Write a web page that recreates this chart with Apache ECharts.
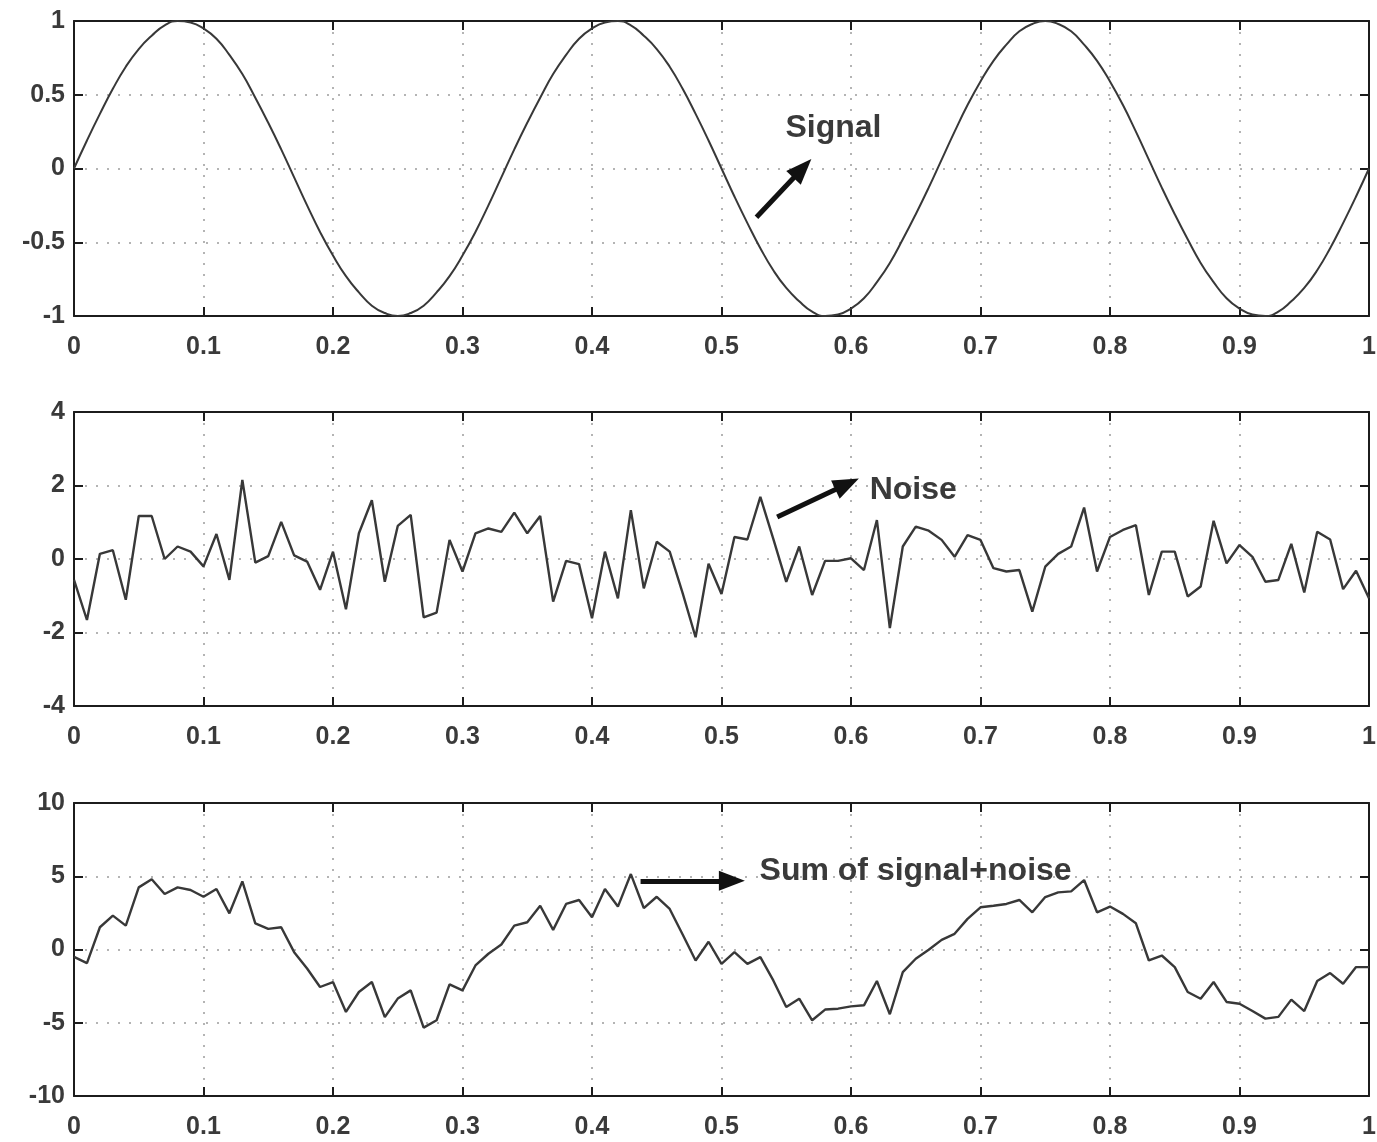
<!DOCTYPE html>
<html>
<head>
<meta charset="utf-8">
<title>Signal, noise and sum</title>
<script src="https://cdn.jsdelivr.net/npm/echarts@6.0.0/dist/echarts.min.js"></script>
<style>
  html, body { margin: 0; padding: 0; background: #fff; }
  #chart { width: 1377px; height: 1142px; }
</style>
</head>
<body>
<div id="chart"></div>
<script>
// sample times (step 0.01)
const tValues = [
  0, 0.01, 0.02, 0.03, 0.04, 0.05, 0.06, 0.07, 0.08, 0.09,
  0.1, 0.11, 0.12, 0.13, 0.14, 0.15, 0.16, 0.17, 0.18, 0.19,
  0.2, 0.21, 0.22, 0.23, 0.24, 0.25, 0.26, 0.27, 0.28, 0.29,
  0.3, 0.31, 0.32, 0.33, 0.34, 0.35, 0.36, 0.37, 0.38, 0.39,
  0.4, 0.41, 0.42, 0.43, 0.44, 0.45, 0.46, 0.47, 0.48, 0.49,
  0.5, 0.51, 0.52, 0.53, 0.54, 0.55, 0.56, 0.57, 0.58, 0.59,
  0.6, 0.61, 0.62, 0.63, 0.64, 0.65, 0.66, 0.67, 0.68, 0.69,
  0.7, 0.71, 0.72, 0.73, 0.74, 0.75, 0.76, 0.77, 0.78, 0.79,
  0.8, 0.81, 0.82, 0.83, 0.84, 0.85, 0.86, 0.87, 0.88, 0.89,
  0.9, 0.91, 0.92, 0.93, 0.94, 0.95, 0.96, 0.97, 0.98, 0.99,
  1
]

const signal = [
  0, 0.19, 0.37, 0.54, 0.69, 0.81, 0.9, 0.97, 1, 0.99,
  0.95, 0.88, 0.77, 0.64, 0.48, 0.31, 0.13, -0.06, -0.25, -0.43,
  -0.59, -0.73, -0.84, -0.93, -0.98, -1, -0.98, -0.93, -0.84, -0.73,
  -0.59, -0.43, -0.25, -0.06, 0.13, 0.31, 0.48, 0.64, 0.77, 0.88,
  0.95, 0.99, 1, 0.97, 0.9, 0.81, 0.69, 0.54, 0.37, 0.19,
  0, -0.19, -0.37, -0.54, -0.69, -0.81, -0.9, -0.97, -1, -0.99,
  -0.95, -0.88, -0.77, -0.64, -0.48, -0.31, -0.13, 0.06, 0.25, 0.43,
  0.59, 0.73, 0.84, 0.93, 0.98, 1, 0.98, 0.93, 0.84, 0.73,
  0.59, 0.43, 0.25, 0.06, -0.13, -0.31, -0.48, -0.64, -0.77, -0.88,
  -0.95, -0.99, -1, -0.97, -0.9, -0.81, -0.69, -0.54, -0.37, -0.19,
  0
]

const noise = [
  -0.57, -1.66, 0.14, 0.24, -1.11, 1.17, 1.17, 0, 0.34, 0.2,
  -0.2, 0.68, -0.57, 2.15, -0.1, 0.08, 1.01, 0.1, -0.07, -0.84,
  0.2, -1.37, 0.7, 1.6, -0.62, 0.9, 1.2, -1.59, -1.46, 0.52,
  -0.34, 0.7, 0.83, 0.74, 1.26, 0.7, 1.17, -1.16, -0.05, -0.14,
  -1.61, 0.2, -1.07, 1.33, -0.8, 0.47, 0.2, -0.93, -2.13, -0.13,
  -0.95, 0.6, 0.53, 1.69, 0.55, -0.62, 0.34, -0.98, -0.05, -0.05,
  0.02, -0.3, 1.06, -1.88, 0.34, 0.88, 0.77, 0.52, 0.06, 0.65,
  0.52, -0.25, -0.34, -0.3, -1.43, -0.21, 0.14, 0.34, 1.4, -0.34,
  0.6, 0.79, 0.92, -0.98, 0.2, 0.2, -1.02, -0.75, 1.04, -0.12,
  0.38, 0.06, -0.62, -0.57, 0.41, -0.91, 0.74, 0.53, -0.82, -0.32,
  -1.07
]

const sum = [
  -0.5, -0.93, 1.52, 2.31, 1.63, 4.24, 4.8, 3.79, 4.24, 4.06,
  3.6, 4.13, 2.47, 4.65, 1.79, 1.41, 1.52, -0.18, -1.3, -2.56,
  -2.22, -4.26, -2.9, -2.22, -4.62, -3.35, -2.79, -5.33, -4.83, -2.38,
  -2.79, -1.09, -0.29, 0.34, 1.63, 1.86, 2.99, 1.34, 3.11, 3.38,
  2.2, 4.13, 2.93, 5.15, 2.83, 3.6, 2.77, 1.02, -0.75, 0.53,
  -0.98, -0.18, -0.98, -0.52, -2.11, -3.92, -3.36, -4.83, -4.1, -4.04,
  -3.88, -3.81, -2.15, -4.42, -1.54, -0.63, -0.02, 0.66, 1.07, 2.09,
  2.88, 2.99, 3.11, 3.38, 2.54, 3.58, 3.9, 3.97, 4.74, 2.54,
  2.93, 2.43, 1.79, -0.75, -0.41, -1.2, -2.9, -3.36, -2.22, -3.58,
  -3.7, -4.2, -4.72, -4.6, -3.42, -4.2, -2.15, -1.61, -2.34, -1.2,
  -1.2
]

const xTicks = [0, 0.1, 0.2, 0.3, 0.4, 0.5, 0.6, 0.7, 0.8, 0.9, 1]
const xTickLabels = ['0', '0.1', '0.2', '0.3', '0.4', '0.5', '0.6', '0.7', '0.8', '0.9', '1']
const signalTicks = [-1, -0.5, 0, 0.5, 1]
const signalTickLabels = ['-1', '-0.5', '0', '0.5', '1']
const noiseTicks = [-4, -2, 0, 2, 4]
const noiseTickLabels = ['-4', '-2', '0', '2', '4']
const sumTicks = [-10, -5, 0, 5, 10]
const sumTickLabels = ['-10', '-5', '0', '5', '10']

const annotationTexts = ['Signal', 'Noise', 'Sum of signal+noise']

const FONT = 'Liberation Sans, Arial, Helvetica, sans-serif'
const INK = '#1c1c1c'
const LABEL = '#3a3a3a'

const pick = (ticks, labels) => (v) => {
  const i = ticks.findIndex(t => Math.abs(t - v) < 1e-9)
  return i < 0 ? '' : labels[i]
}

const panels = [
  {
    top: 21, height: 295, values: signal, ticks: signalTicks, labels: signalTickLabels,
    smooth: true, width: 2,
    text: { coord: [0.549, 0.275], str: annotationTexts[0] },
    arrow: [[0.527, -0.33], [0.5625, 0]]
  },
  {
    top: 412, height: 294, values: noise, ticks: noiseTicks, labels: noiseTickLabels,
    smooth: false, width: 2.4,
    text: { coord: [0.614, 1.87], str: annotationTexts[1] },
    arrow: [[0.543, 1.14], [0.597, 2.04]]
  },
  {
    top: 803, height: 293, values: sum, ticks: sumTicks, labels: sumTickLabels,
    smooth: false, width: 2.4,
    text: { coord: [0.529, 5.37], str: annotationTexts[2] },
    arrow: [[0.4375, 4.69], [0.508, 4.69]]
  }
]

const grid = []
const xAxis = []
const yAxis = []
const series = []

panels.forEach((p, i) => {
  const min = p.ticks[0]
  const max = p.ticks[p.ticks.length - 1]
  const interval = p.ticks[1] - p.ticks[0]
  grid.push({ left: 74, width: 1295, top: p.top, height: p.height, outerBoundsMode: 'none' })

  const line = { show: true, onZero: false, lineStyle: { color: INK, width: 2 } }
  const tick = { show: true, inside: true, length: 9, lineStyle: { color: INK, width: 2 } }
  const dots = { show: true, lineStyle: { color: '#9c9c9c', width: 1.5, type: [2, 9] } }

  xAxis.push({
    type: 'value', gridIndex: i, position: 'bottom', min: 0, max: 1, interval: 0.1,
    axisLine: line, axisTick: tick,
    axisLabel: {
      margin: 19, fontSize: 25, fontWeight: 'bold', color: LABEL, fontFamily: FONT,
      showMinLabel: true, showMaxLabel: true, formatter: pick(xTicks, xTickLabels)
    },
    splitLine: dots
  })
  xAxis.push({
    type: 'value', gridIndex: i, position: 'top', min: 0, max: 1, interval: 0.1,
    axisLine: line, axisTick: tick, axisLabel: { show: false }, splitLine: { show: false }
  })
  yAxis.push({
    type: 'value', gridIndex: i, position: 'left', min, max, interval,
    axisLine: line, axisTick: tick,
    axisLabel: {
      margin: 9, fontSize: 25, fontWeight: 'bold', color: LABEL, fontFamily: FONT,
      showMinLabel: true, showMaxLabel: true, formatter: pick(p.ticks, p.labels)
    },
    splitLine: dots
  })
  yAxis.push({
    type: 'value', gridIndex: i, position: 'right', min, max, interval,
    axisLine: line, axisTick: tick, axisLabel: { show: false }, splitLine: { show: false }
  })

  series.push({
    type: 'line',
    xAxisIndex: i * 2,
    yAxisIndex: i * 2,
    data: tValues.map((t, k) => [t, p.values[k]]),
    showSymbol: false,
    smooth: p.smooth,
    silent: true,
    lineStyle: { color: '#383838', width: p.width },
    markLine: {
      silent: true,
      animation: false,
      symbol: ['none', 'triangle'],
      symbolSize: [20, 26],
      label: { show: false },
      lineStyle: { color: '#111', width: 5, type: 'solid' },
      data: [[{ coord: p.arrow[0] }, { coord: p.arrow[1] }]]
    },
    markPoint: {
      silent: true,
      animation: false,
      data: [{
        coord: p.text.coord,
        symbol: 'circle',
        symbolSize: 1,
        itemStyle: { color: 'rgba(0,0,0,0)' },
        label: {
          show: true, position: 'right', distance: 0,
          formatter: p.text.str, fontSize: 32, fontWeight: 'bold', color: '#3a3a3a', fontFamily: FONT
        }
      }]
    }
  })
})

const option = {
  backgroundColor: '#fff',
  animation: false,
  grid,
  xAxis,
  yAxis,
  series
}

const myChart = echarts.init(document.getElementById('chart'), null, { renderer: 'canvas' })
myChart.setOption(option)

window.addEventListener('resize', function () {
  myChart && myChart.resize()
})
</script>
</body>
</html>
